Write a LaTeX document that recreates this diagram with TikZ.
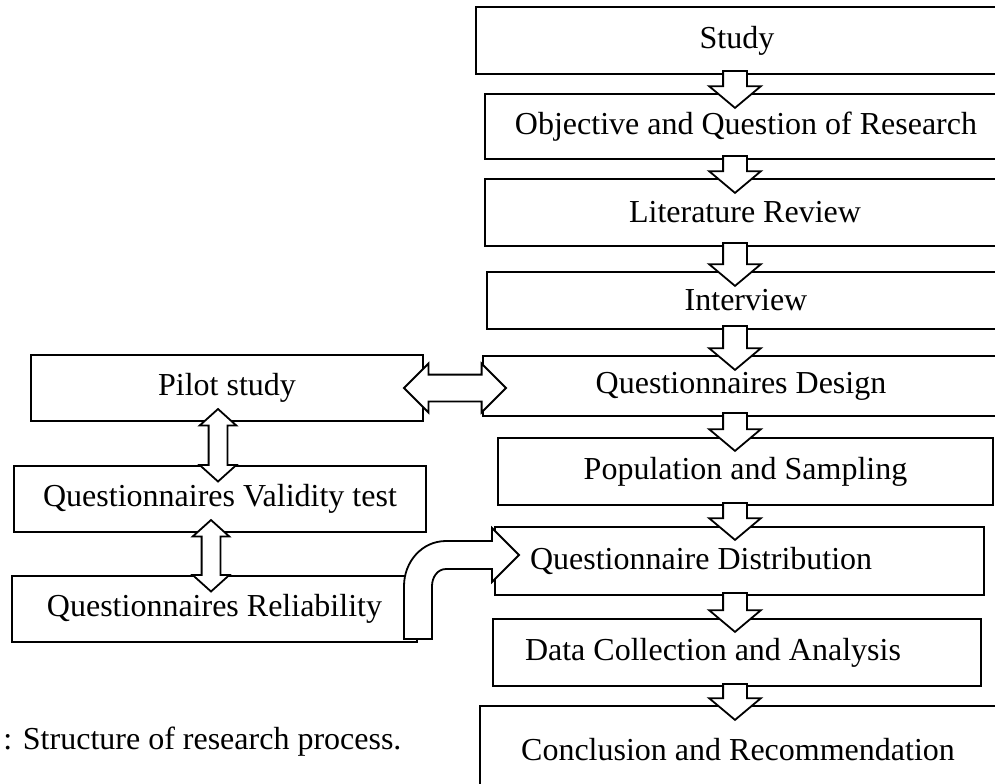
\documentclass[tikz,border=0pt]{standalone}
\usepackage{fontspec}
\setmainfont{Liberation Serif}
\usepackage{tikz}
\usetikzlibrary{shapes.arrows,calc}

% text centred in the visible part of a box that runs off the right edge
\newcommand{\opentext}[2]{\hbox to #1{\hfil #2\hfil}\hskip 20pt}

\tikzset{
  box/.style={draw, line width=1pt, inner sep=0pt, font=\fontsize{16pt}{19pt}\selectfont},
  openbox/.style={box, draw=none, anchor=west},
  capt/.style={inner sep=0pt, font=\fontsize{16pt}{19pt}\selectfont},
  dnbody/.style={draw, fill=white, line width=0.9pt, single arrow, inner xsep=0pt,
    inner ysep=5.5pt, single arrow head extend=7pt, single arrow tip angle=100,
    minimum width=0pt},
  hbody/.style={draw, fill=white, line width=0.9pt, double arrow, inner xsep=0pt,
    inner ysep=6.25pt, double arrow head extend=5.5pt, double arrow tip angle=90,
    minimum width=0pt},
  vbody/.style={hbody, inner ysep=4.25pt, double arrow head extend=4.5pt,
    double arrow tip angle=96},
  % hollow block arrows, from one box to the next
  dnarr/.style={to path={let \p1=(axis |- \tikztostart.south), \p2=(\tikztotarget.north),
      \n1={\y1-\y2+8.5pt} in
      (\x1,\y1+2pt) node[dnbody, rotate=-90, anchor=tail, minimum height=\n1] {}}},
  lrarr/.style={to path={let \p1=(\tikztostart.east), \p2=(\tikztotarget.west),
      \n1={\x2-\x1+21.5pt} in
      ({0.5*\x1+0.5*\x2+0.75pt},\y1) node[hbody, minimum height=\n1] {}}},
  udarr/.style={to path={let \p1=(\tikztostart.south), \p2=(\tikztotarget.north),
      \n1={\y1-\y2+14.75pt} in
      (\x1-4.5pt,{0.5*\y1+0.5*\y2-0.875pt}) node[vbody, rotate=90, minimum height=\n1] {}}},
  bent/.style={draw, fill=white, line width=0.9pt},
}

\begin{document}
\begin{tikzpicture}[x=0.5pt, y=-0.5pt]
    \useasboundingbox (0,0) rectangle (995,783);
    \clip (0,0) rectangle (995,783);
    \coordinate (axis) at (735,0);
    % main column
    \node[openbox, minimum height=32.5pt] (study) at (476,40.5) {\opentext{260pt}{Study}};
    \node[openbox, minimum height=31.5pt] (obj) at (485,126.5) {\opentext{260pt}{Objective and Question of Research}};
    \node[openbox, minimum height=32.5pt] (lit) at (485,212.5) {\opentext{259pt}{Literature Review}};
    \node[openbox, minimum height=27.5pt] (interview) at (487,300.5) {\opentext{258pt}{Interview}};
    \node[openbox, minimum height=29pt] (design) at (483,386) {\opentext{257pt}{Questionnaires Design}};
    \node[box, minimum width=247.5pt, minimum height=33.5pt] (pop) at (745.5,471.5) {Population and Sampling};
    \node[box, inner xsep=17.5pt, minimum height=34pt] (dist) at (739.5,561)
      {\hbox to 209.5pt{Questionnaire Distribution\hfil}};
    \node[box, inner xsep=16pt, minimum height=33.5pt] (data) at (737,652.5)
      {\hbox to 212pt{Data Collection and Analysis\hfil}};
    \node[openbox, minimum height=43pt] (concl) at (480,750) {\opentext{257pt}{Conclusion and Recommendation}};
    % these boxes run off the page, so no right side
    \foreach \n in {study, obj, lit, interview, design, concl}
      \draw[line width=1pt] (\n.north east) -| (\n.south west) -- (\n.south east);
    % pilot column
    \node[box, minimum width=196pt, minimum height=33pt] (pilot) at (227,388) {Pilot study};
    \node[box, minimum width=206pt, minimum height=33pt] (valid) at (220,499) {Questionnaires Validity test};
    \node[box, minimum width=202.5pt, minimum height=33pt] (reli) at (214.5,609) {Questionnaires Reliability};
    \node[capt, anchor=west] (caption) at (3,742) {: Structure of research process.};

    \foreach \a/\b in {study/obj, obj/lit, lit/interview, interview/design,
                       design/pop, pop/dist, dist/data, data/concl}
      \path (\a) to[dnarr] (\b);
    \path (pilot) to[lrarr] (design);
    \path (pilot) to[udarr] (valid);
    \path (valid) to[udarr] (reli);
    % bent arrow, reliability up into distribution
    \draw[bent] let \p1=(reli.south east), \p2=(dist.west) in
      (\x1-7pt,\y1+2pt) -- (\x1-7pt,\y1+28.5pt)
      to[out=90,in=180] (\x2-24pt,\y2+10pt) -- (\x2-1pt,\y2+10pt) -- (\x2-1pt,\y2+16.5pt)
      -- (\x2+12.5pt,\y2+3pt) -- (\x2-1pt,\y2-10.5pt) -- (\x2-1pt,\y2-4pt)
      -- (\x2-24pt,\y2-4pt) to[out=180,in=90] (\x1+7pt,\y1+28.5pt) -- (\x1+7pt,\y1+2pt) -- cycle;
\end{tikzpicture}
\end{document}
